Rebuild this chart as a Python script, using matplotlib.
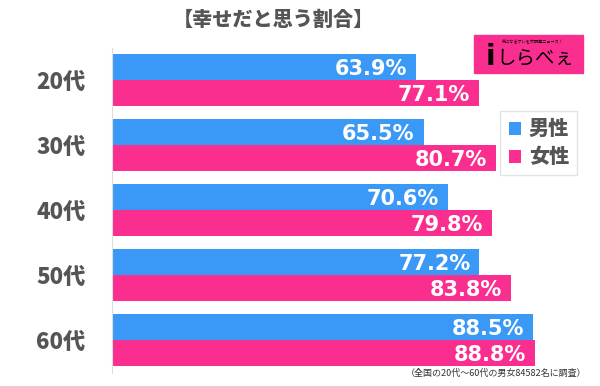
import matplotlib.pyplot as plt
from matplotlib.patches import Rectangle

plt.rcParams['font.family'] = ['Noto Sans CJK JP', 'DejaVu Sans']

# data
ages = ['20代', '30代', '40代', '50代', '60代']
male = [63.9, 65.5, 70.6, 77.2, 88.5]
female = [77.1, 80.7, 79.8, 83.8, 88.8]
series_names = ['男性', '女性']

blue = '#3A98F6'
pink = '#FA2E8E'
grey = '#555555'

W, H = 600, 386
fig = plt.figure(figsize=(W / 100, H / 100), dpi=100)
ax = fig.add_axes([112 / W, 13.5 / H, 476 / W, 325 / H])

bh = 0.4
ys = list(range(len(ages)))
ax.barh([y - bh / 2 for y in ys], male, height=bh, color=blue, label=series_names[0])
ax.barh([y + bh / 2 for y in ys], female, height=bh, color=pink, label=series_names[1])

for y, m, f in zip(ys, male, female):
    ax.text(m - 1.9, y - bh / 2, f'{m:.1f}%', ha='right', va='center_baseline',
            color='white', fontsize=15, fontweight='bold', family='DejaVu Sans')
    ax.text(f - 1.9, y + bh / 2, f'{f:.1f}%', ha='right', va='center_baseline',
            color='white', fontsize=15, fontweight='bold', family='DejaVu Sans')

ax.set_xlim(0, 100)
ax.set_ylim(len(ages) - 0.5, -0.5)
ax.set_yticks(ys)
ax.set_yticklabels(ages, fontsize=16, fontweight='heavy', color=grey)
ax.tick_params(axis='y', length=0, pad=19)
ax.set_xticks([])
for s in ['top', 'right', 'bottom']:
    ax.spines[s].set_visible(False)
ax.spines['left'].set_color('#DDDDDD')
ax.spines['left'].set_linewidth(0.8)

leg = ax.legend(loc='upper right', bbox_to_anchor=(0.998, 0.835), frameon=True,
                prop={'size': 14.5, 'weight': 'heavy'}, handlelength=0.6,
                handleheight=0.6, handletextpad=0.4, borderpad=0.4,
                labelspacing=0.4, fancybox=False, edgecolor='#DDDDDD')
for t in leg.get_texts():
    t.set_color(grey)

fig.text(273 / W, 1 - 20 / H, '【幸せだと思う割合】', ha='center', va='center',
         fontsize=14.5, fontweight='heavy', color=grey)

# logo box
fig.patches.append(Rectangle((474 / W, 1 - 73 / H), 109 / W, 38 / H,
                             transform=fig.transFigure, color=pink, zorder=5))
fig.text(533 / W, 1 - 41 / H, '気になるアレを大調査ニュース！', ha='center', va='center',
         fontsize=3, color='black', zorder=6)
fig.text(490 / W, 1 - 57 / H, 'i', ha='center', va='center', fontsize=20,
         fontweight='bold', color='black', zorder=6, family='DejaVu Sans')
fig.text(535 / W, 1 - 58 / H, 'しらべぇ', ha='center', va='center', fontsize=14,
         color='black', zorder=6)

fig.text(586 / W, 1 - 373 / H, '（全国の20代～60代の男女84582名に調査）', ha='right',
         va='center', fontsize=6.5, color='#333333')

fig.savefig('out.png', dpi=100)
